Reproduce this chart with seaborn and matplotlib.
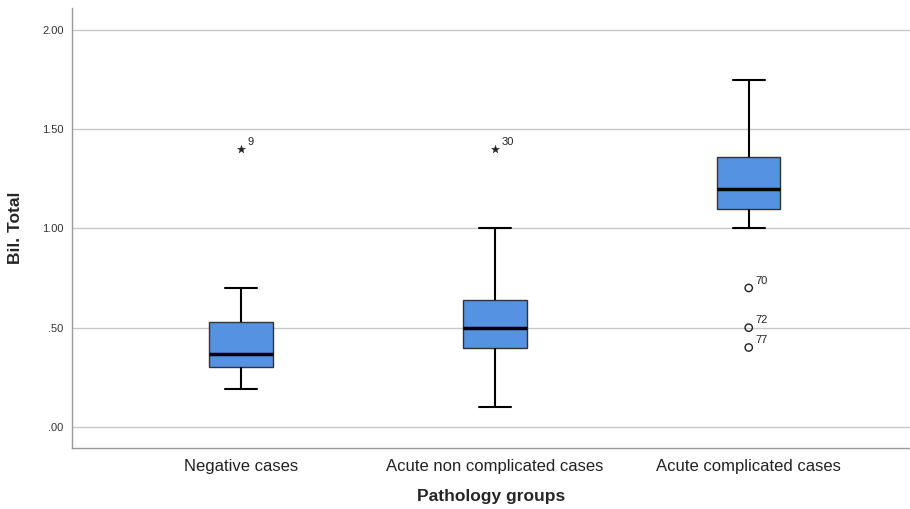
import pandas as pd
import seaborn as sns
import matplotlib.pyplot as plt

# five-number summaries (whisker low, Q1, median, Q3, whisker high)
groups = ["Negative cases", "Acute non complicated cases", "Acute complicated cases"]
negative = [0.19, 0.30, 0.365, 0.53, 0.70]
acute_non = [0.10, 0.40, 0.50, 0.64, 1.00]
acute_comp = [1.00, 1.10, 1.20, 1.36, 1.75]

# outliers: extremes (stars) and mild ones (circles) with case numbers
star_group = ["Negative cases", "Acute non complicated cases"]
star_value = [1.40, 1.40]
star_label = ["9", "30"]
circle_group = ["Acute complicated cases"] * 3
circle_value = [0.70, 0.50, 0.40]
circle_label = ["70", "72", "77"]

df = pd.DataFrame({
    "group": [groups[0]] * len(negative) + [groups[1]] * len(acute_non) + [groups[2]] * len(acute_comp),
    "value": negative + acute_non + acute_comp,
})

sns.set_theme(style="white")
plt.rcParams["font.family"] = ["Liberation Sans", "DejaVu Sans"]

fig = plt.figure(figsize=(9.1, 5.09), dpi=100)
ax = fig.add_axes([0.079, 0.12, 0.921, 0.864])

ax.yaxis.grid(True, color="#c8c8c8", linewidth=1)
ax.set_axisbelow(True)

sns.boxplot(data=df, x="group", y="value", order=groups, whis=(0, 100), width=0.25,
            color="#5593e2", saturation=1, showfliers=False, ax=ax,
            boxprops=dict(edgecolor="#333333", linewidth=1),
            whiskerprops=dict(color="black", linewidth=1.5),
            capprops=dict(color="black", linewidth=1.5),
            medianprops=dict(color="black", linewidth=2.5))

stars = pd.DataFrame({"group": star_group, "value": star_value})
circles = pd.DataFrame({"group": circle_group, "value": circle_value})
sns.scatterplot(data=stars, x="group", y="value", marker="*", s=36, color="#222222",
                edgecolor="#222222", linewidth=0.3, ax=ax, zorder=5)
sns.scatterplot(data=circles, x="group", y="value", marker="o", s=28, facecolor="none",
                edgecolor="#222222", linewidth=1, ax=ax, zorder=5)

for g, v, lab in zip(star_group + circle_group, star_value + circle_value, star_label + circle_label):
    ax.annotate(lab, (groups.index(g), v), xytext=(5, 3), textcoords="offset points",
                fontsize=8, color="#222222")

ax.set_xlim(-0.665, 2.635)
ax.set_ylim(-0.106, 2.11)
ax.set_yticks([0, 0.5, 1.0, 1.5, 2.0])
ax.set_yticklabels([".00", ".50", "1.00", "1.50", "2.00"], fontsize=8, color="#333333")
ax.set_xticks(range(len(groups)))
ax.set_xticklabels(groups, fontsize=12, color="#222222")
ax.tick_params(axis="y", length=0, pad=6)
ax.tick_params(axis="x", length=0, pad=8)

ax.set_xlabel("Pathology groups", fontsize=12.5, fontweight="bold", labelpad=11)
ax.set_ylabel("Bil. Total", fontsize=12.5, fontweight="bold", labelpad=14)

sns.despine(ax=ax)
for side in ["left", "bottom"]:
    ax.spines[side].set_color("#999999")
    ax.spines[side].set_linewidth(1)

fig.savefig("out.png", dpi=100)
